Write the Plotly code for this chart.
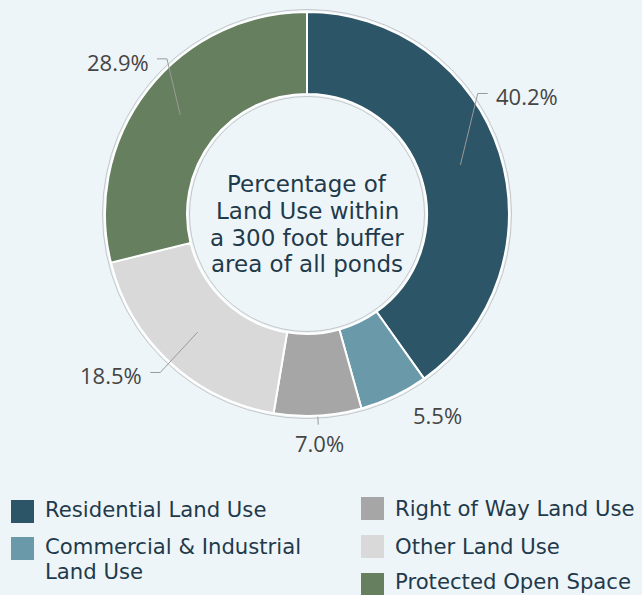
import math
import plotly.graph_objects as go

# ---------------- data ----------------
categories = ["Residential Land Use", "Commercial & Industrial Land Use",
              "Right of Way Land Use", "Other Land Use", "Protected Open Space"]
values = [40.2, 5.5, 7.0, 18.5, 28.9]
legend_lines = [["Residential Land Use"], ["Commercial & Industrial", "Land Use"],
                ["Right of Way Land Use"], ["Other Land Use"], ["Protected Open Space"]]
center_lines = ["Percentage of", "Land Use within", "a 300 foot buffer", "area of all ponds"]

# ---------------- style ----------------
colors = ["#2c5567", "#6a99aa", "#a6a6a6", "#d9d9d9", "#667f5f"]
BG = "#eef5f8"
TEXT_DARK = "#1f3a4b"
LABEL_GREY = "#454545"
LEADER = "#9a9a9a"
OUTLINE = "#c3c7c9"
W, H = 642, 595
CX, CY = 307, 214          # donut centre in pixels
R = 202                     # outer radius of slices in pixels
HOLE = 0.594
FONT_MAIN = "DejaVu Sans"
FONT_LABEL = "Open Sans"
LABEL_SIZE = 22
LEGEND_SIZE = 21.2

# per-slice label style: (mode, angle shift deg, radius px, side)
label_style = [
    ("elbow", -17.5, 209, "right"),
    ("plain", -7.4, 240, "center"),
    ("tick", 0.0, 229, "center"),
    ("elbow", 0.0, 216, "left"),
    ("elbow", 9.9, 209, "left"),
]


def px(x):
    return x / W


def py(y):
    return 1 - y / H


def polar(r, ang_deg):
    a = math.radians(ang_deg)
    return CX + r * math.sin(a), CY - r * math.cos(a)


fig = go.Figure()
fig.add_trace(go.Pie(
    labels=categories, values=values, sort=False, direction="clockwise",
    rotation=0, hole=HOLE, textinfo="none", hoverinfo="label+percent",
    marker=dict(colors=colors, line=dict(color="white", width=2)),
    domain=dict(x=[px(CX - R), px(CX + R)], y=[py(CY + R), py(CY - R)]),
    showlegend=False,
))

shapes = []
annotations = []

# outline circles
for rr in (R + 2.5, R * HOLE - 2.5):
    shapes.append(dict(type="circle", xref="paper", yref="paper",
                       xsizemode="pixel", ysizemode="pixel",
                       xanchor=px(CX), yanchor=py(CY),
                       x0=-rr, x1=rr, y0=-rr, y1=rr,
                       line=dict(color=OUTLINE, width=1), layer="above"))

# labels with leader lines
total = sum(values)
cum = 0.0
r_mid = (R + R * HOLE) / 2
lab_font = dict(family=FONT_LABEL, size=LABEL_SIZE, color=LABEL_GREY)
for v, (mode, shift, rad, side) in zip(values, label_style):
    mid = (cum + v / 2) / total * 360
    cum += v
    txt = f"{v:.1f}%"
    ax, ay = polar(r_mid, mid)
    if mode == "elbow":
        ex, ey = polar(rad, mid + shift)
        sign = 1 if side == "right" else -1
        hx = ex + sign * 10
        shapes.append(dict(type="path", xref="paper", yref="paper",
                           path=f"M {px(ax)},{py(ay)} L {px(ex)},{py(ey)} L {px(hx)},{py(ey)}",
                           line=dict(color=LEADER, width=1)))
        annotations.append(dict(x=px(hx + sign * 6), y=py(ey + 3), xref="paper", yref="paper",
                                text=txt, showarrow=False,
                                xanchor="left" if side == "right" else "right", yanchor="middle",
                                font=lab_font))
    elif mode == "tick":
        t0x, t0y = polar(R + 1, mid)
        t1x, t1y = polar(R + 9, mid)
        shapes.append(dict(type="line", xref="paper", yref="paper",
                           x0=px(t0x), y0=py(t0y), x1=px(t1x), y1=py(t1y),
                           line=dict(color=LEADER, width=1)))
        lx, ly = polar(rad, mid)
        annotations.append(dict(x=px(lx), y=py(ly), xref="paper", yref="paper",
                                text=txt, showarrow=False, xanchor="center", yanchor="middle",
                                font=lab_font))
    else:
        lx, ly = polar(rad, mid + shift)
        annotations.append(dict(x=px(lx), y=py(ly), xref="paper", yref="paper",
                                text=txt, showarrow=False, xanchor="center", yanchor="middle",
                                font=lab_font))

# centre text, one annotation per line for tight spacing
CENTER_FIRST = 184
CENTER_STEP = 26.8
for i, line in enumerate(center_lines):
    annotations.append(dict(x=px(CX), y=py(CENTER_FIRST + i * CENTER_STEP), xref="paper", yref="paper",
                            text=line, showarrow=False, xanchor="center", yanchor="middle",
                            font=dict(family=FONT_MAIN, size=23, color=TEXT_DARK)))

# custom legend (two columns)
col_x = [11, 361]
sq_top = [500, 537, 497, 535, 573]
text_mid = [508, 545, 507, 545, 580]
LEG_LINE = 25.5
SQ = 23
col_of = [0, 0, 1, 1, 1]
for lines, col, c, st, tm in zip(legend_lines, colors, col_of, sq_top, text_mid):
    x0 = col_x[c]
    shapes.append(dict(type="rect", xref="paper", yref="paper",
                       x0=px(x0), x1=px(x0 + SQ), y0=py(st + SQ), y1=py(st),
                       fillcolor=col, line=dict(width=0)))
    for j, line in enumerate(lines):
        annotations.append(dict(x=px(x0 + 32), y=py(tm + 1 + j * LEG_LINE), xref="paper", yref="paper",
                                text=line, showarrow=False, xanchor="left", yanchor="middle",
                                font=dict(family=FONT_MAIN, size=LEGEND_SIZE, color=TEXT_DARK)))

fig.update_layout(
    width=W, height=H, margin=dict(l=0, r=0, t=0, b=0),
    paper_bgcolor=BG, plot_bgcolor=BG,
    shapes=shapes, annotations=annotations,
)

fig.write_html("out.html", config={"displayModeBar": False},
               post_script="document.body.style.margin='0';")
